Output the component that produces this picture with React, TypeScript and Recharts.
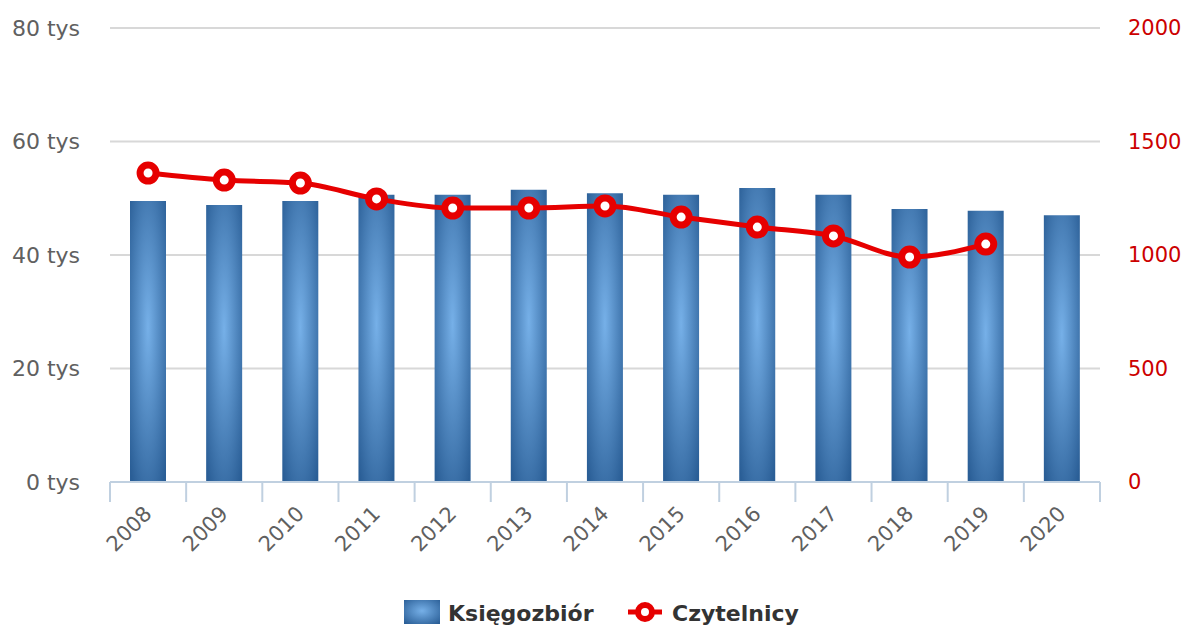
import React from 'react';
import { Bar, CartesianGrid, ComposedChart, Line, XAxis, YAxis } from 'recharts';

const years = ['2008', '2009', '2010', '2011', '2012', '2013', '2014', '2015', '2016', '2017', '2018', '2019', '2020'];
const ksiegozbior = [49500, 48800, 49500, 50600, 50600, 51500, 50900, 50600, 51800, 50600, 48100, 47800, 47000];
const czytelnicy: (number | null)[] = [1361, 1330, 1317, 1247, 1207, 1207, 1216, 1167, 1123, 1084, 991, 1048, null];
const leftTicks = [0, 20000, 40000, 60000, 80000];
const rightTicks = [0, 500, 1000, 1500, 2000];

const data = years.map((year, i) => ({ year, ksiegozbior: ksiegozbior[i], czytelnicy: czytelnicy[i] }));

const FONT = '"DejaVu Sans", Verdana, sans-serif';
const RED = '#e60000';

const XTick = (props: any) => {
  const { x, y, payload, index } = props;
  const half = payload.offset || 38;
  return (
    <g>
      <line x1={x - half} y1={y} x2={x - half} y2={y + 20} stroke="#c0d0e0" strokeWidth={2} />
      {index === years.length - 1 && (
        <line x1={x + half} y1={y} x2={x + half} y2={y + 20} stroke="#c0d0e0" strokeWidth={2} />
      )}
      <text
        transform={`translate(${x + 5},${y + 33}) rotate(-45)`}
        textAnchor="end"
        fill="#606060"
        fontSize={21}
        fontFamily={FONT}
      >
        {payload.value}
      </text>
    </g>
  );
};

const Dot = (props: any) => {
  const { cx, cy, value } = props;
  if (value == null || cx == null || cy == null) return null;
  return <circle cx={cx} cy={cy} r={8} fill="#fff" stroke={RED} strokeWidth={7} />;
};

export default function App() {
  return (
    <div style={{ position: 'absolute', left: 0, top: 0, width: 1186, height: 626, background: '#fff' }}>
      <ComposedChart width={1186} height={626} data={data} margin={{ top: 28, right: 0, bottom: 0, left: 0 }}>
        <defs>
          <radialGradient id="barFill" cx="0.5" cy="0.45" r="0.7">
            <stop offset="0%" stopColor="#76b0e8" />
            <stop offset="100%" stopColor="#2a5e96" />
          </radialGradient>
        </defs>
        <CartesianGrid vertical={false} stroke="#d8d8d8" strokeWidth={2} yAxisId="left" />
        <XAxis
          dataKey="year"
          height={144}
          axisLine={{ stroke: '#c0d0e0', strokeWidth: 2 }}
          tickLine={false}
          tickSize={0}
          tickMargin={0}
          tick={<XTick />}
          interval={0}
        />
        <YAxis
          yAxisId="left"
          width={110}
          domain={[0, 80000]}
          ticks={leftTicks}
          axisLine={false}
          tickLine={false}
          tickSize={0}
          tickMargin={30}
          tickFormatter={(v: number) => `${v / 1000} tys`}
          tick={{ fill: '#606060', fontSize: 22, fontFamily: FONT }}
        />
        <YAxis
          yAxisId="right"
          orientation="right"
          width={86}
          domain={[0, 2000]}
          ticks={rightTicks}
          axisLine={false}
          tickLine={false}
          tickSize={0}
          tickMargin={28}
          tick={{ fill: '#cc0000', fontSize: 21, fontFamily: FONT, textAnchor: 'start' }}
        />
        <Bar yAxisId="left" dataKey="ksiegozbior" barSize={36} fill="url(#barFill)" isAnimationActive={false} />
        <Line
          yAxisId="right"
          type="monotone"
          dataKey="czytelnicy"
          stroke={RED}
          strokeWidth={5}
          dot={<Dot />}
          activeDot={false}
          isAnimationActive={false}
        />
      </ComposedChart>
      <svg width={1186} height={626} style={{ position: 'absolute', left: 0, top: 0, pointerEvents: 'none' }}>
        <defs>
          <radialGradient id="legendFill" cx="0.5" cy="0.45" r="0.7">
            <stop offset="0%" stopColor="#76b0e8" />
            <stop offset="100%" stopColor="#2a5e96" />
          </radialGradient>
        </defs>
        <rect x={404} y={600} width={36} height={24} fill="url(#legendFill)" />
        <text x={448} y={621} fontSize={22} fontWeight="bold" fill="#333" fontFamily={FONT}>Księgozbiór</text>
        <line x1={628} y1={612} x2={662} y2={612} stroke={RED} strokeWidth={5} />
        <circle cx={645} cy={612} r={7} fill="#fff" stroke={RED} strokeWidth={6} />
        <text x={672} y={621} fontSize={22} fontWeight="bold" fill="#333" fontFamily={FONT}>Czytelnicy</text>
      </svg>
    </div>
  );
}
